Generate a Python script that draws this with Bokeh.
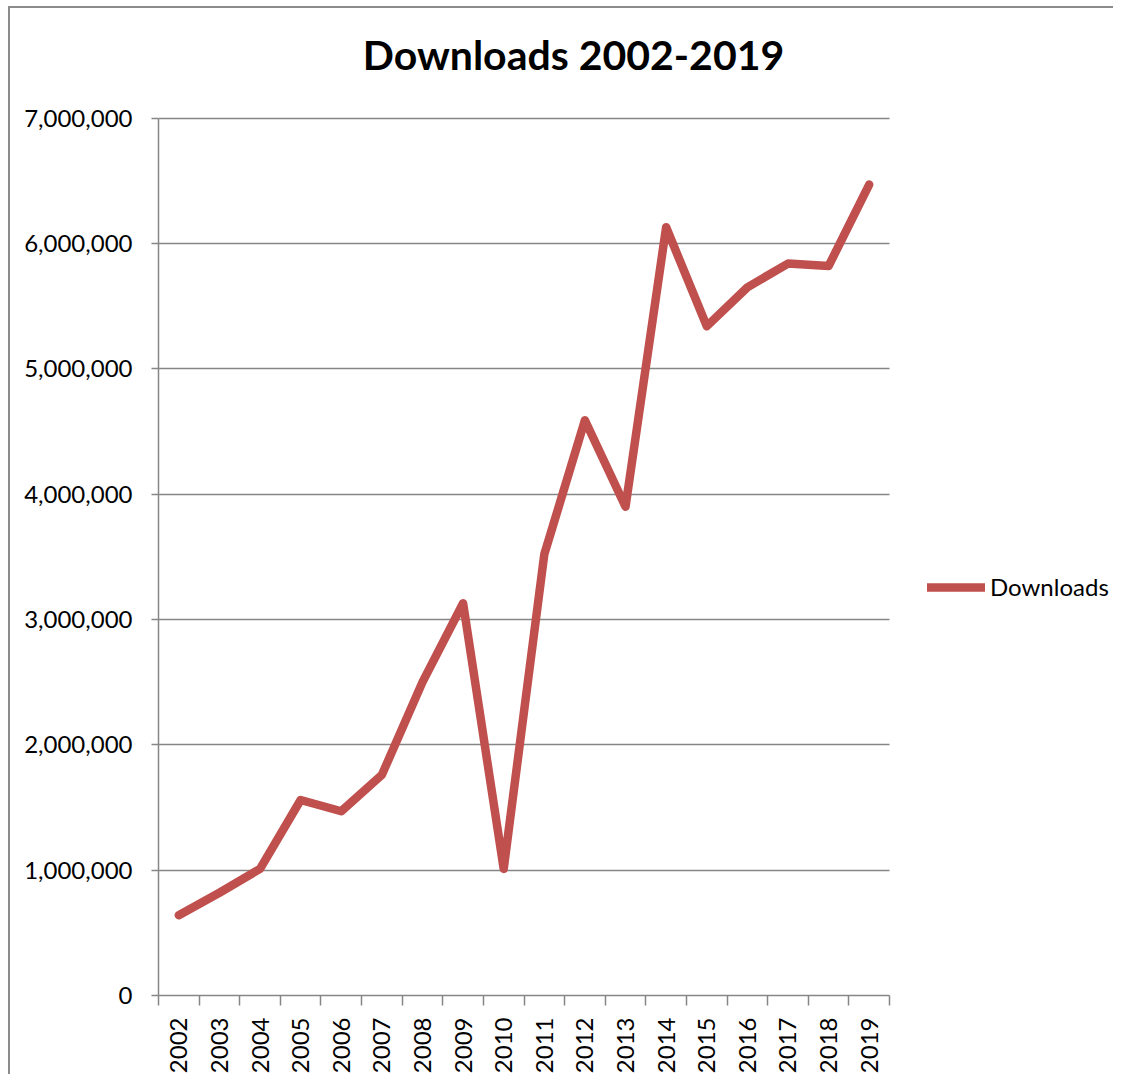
import math
from bokeh.plotting import figure
from bokeh.models import (ColumnDataSource, FixedTicker, NumeralTickFormatter,
                          Legend, LegendItem, Range1d, Label)
from bokeh.embed import file_html
from bokeh.resources import INLINE

# ---- data ----
years = ["2002", "2003", "2004", "2005", "2006", "2007", "2008", "2009", "2010",
         "2011", "2012", "2013", "2014", "2015", "2016", "2017", "2018", "2019"]
downloads = [640000, 820000, 1010000, 1560000, 1470000, 1760000, 2500000, 3130000,
             1010000, 3520000, 4590000, 3900000, 6130000, 5340000, 5650000,
             5840000, 5820000, 6470000]
y_ticks = [0, 1000000, 2000000, 3000000, 4000000, 5000000, 6000000, 7000000]
series_name = "Downloads"
chart_title = "Downloads 2002-2019"

idx = list(range(len(years)))
src = ColumnDataSource(dict(x=idx, y=downloads, year=years))

FONT = "Lato"
GRID = "#868686"
RED = "#C0504D"

# layout: the value/category area is 731 x 880 px; the frame is extended to the
# right and to the top so that legend and title (drawn inside it) are not clipped.
W, H = 1105, 1068
BL, BR, BT, BB = 148, 0, 0, 78
cat_px, val_px = 731.0, 880.0
n = len(years)
y_max = y_ticks[-1]
frame_w = W - BL - BR
frame_h = H - BT - BB
x_end = -0.5 + n * frame_w / cat_px
y_end = y_max * frame_h / val_px

p = figure(width=W, height=H, output_backend="svg", toolbar_location=None,
           x_range=Range1d(-0.5, x_end), y_range=Range1d(0, y_end),
           min_border_left=BL, min_border_right=BR, min_border_top=BT,
           min_border_bottom=BB, background_fill_color="white",
           border_fill_color="white")
p.outline_line_color = None
p.styles = {"margin-left": "8px", "margin-top": "6px",
            "border-left": "2px solid #8c8c8c", "border-top": "2px solid #8c8c8c"}

line = p.line("x", "y", source=src, line_color=RED, line_width=8.5,
              line_cap="round", line_join="round")

# title (screen units relative to the frame's bottom-left corner)
p.add_layout(Label(x=415, y=941, x_units="screen", y_units="screen",
                   text=chart_title, text_font=FONT, text_font_style="bold",
                   text_font_size="41px", text_color="black",
                   text_align="center", text_baseline="alphabetic"))

# y axis
p.yaxis.bounds = (0, y_max)
p.yaxis.ticker = FixedTicker(ticks=y_ticks)
p.yaxis.formatter = NumeralTickFormatter(format="0,0")
p.yaxis.major_label_text_font = FONT
p.yaxis.major_label_text_font_size = "24px"
p.yaxis.major_label_text_color = "black"
p.yaxis.axis_line_color = GRID
p.yaxis.axis_line_width = 1.5
p.yaxis.major_tick_line_color = GRID
p.yaxis.major_tick_line_width = 1.5
p.yaxis.major_tick_out = 7
p.yaxis.major_tick_in = 0
p.yaxis.minor_tick_line_color = None
p.yaxis.major_label_standoff = 19

# x axis
p.xaxis.bounds = (-0.5, n - 0.5)
p.xaxis.ticker = FixedTicker(ticks=idx, minor_ticks=[i - 0.5 for i in range(n + 1)])
p.xaxis.major_label_overrides = {i: y for i, y in zip(idx, years)}
p.xaxis.major_label_orientation = math.pi / 2
p.xaxis.major_label_text_font = FONT
p.xaxis.major_label_text_font_size = "24px"
p.xaxis.major_label_text_color = "black"
p.xaxis.axis_line_color = GRID
p.xaxis.axis_line_width = 1.5
p.xaxis.major_tick_line_color = None
p.xaxis.major_tick_out = 10
p.xaxis.major_tick_in = 0
p.xaxis.minor_tick_line_color = GRID
p.xaxis.minor_tick_line_width = 1.5
p.xaxis.minor_tick_out = 10
p.xaxis.minor_tick_in = 0
p.xaxis.major_label_standoff = 12

# grid
p.xgrid.grid_line_color = None
p.ygrid.ticker = FixedTicker(ticks=y_ticks)
p.ygrid.grid_line_color = GRID
p.ygrid.grid_line_width = 1.5
p.ygrid.cross_bounds = (-0.5, n - 0.5)

# legend
legend = Legend(items=[LegendItem(label=series_name, renderers=[line])],
                location=(769, 394), orientation="vertical",
                border_line_color=None, background_fill_alpha=0,
                padding=0, margin=0, glyph_width=58, glyph_height=20,
                label_standoff=5, label_text_font=FONT,
                label_text_font_size="24px", label_text_color="black")
p.add_layout(legend, "center")

open("out.html", "w").write(file_html(p, INLINE))
